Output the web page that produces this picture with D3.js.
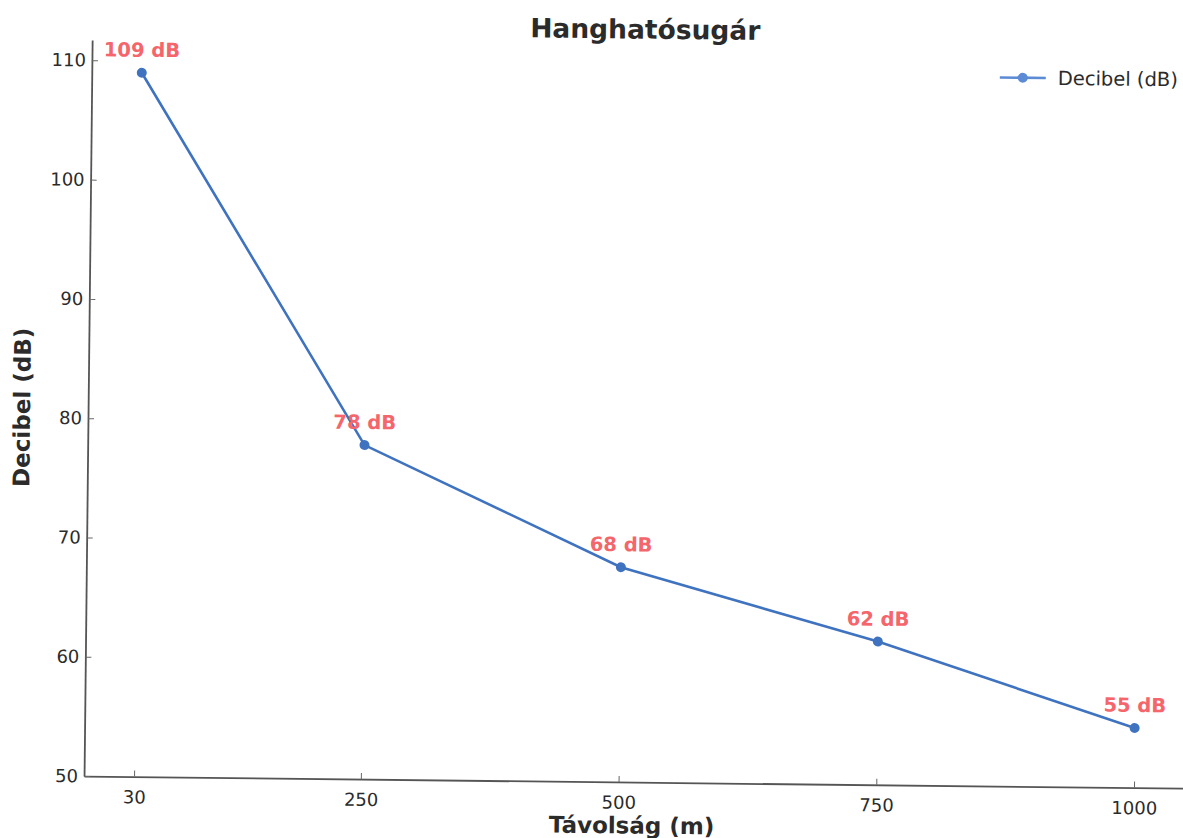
<!DOCTYPE html>
<html>
<head>
<meta charset="utf-8">
<script src="https://cdn.jsdelivr.net/npm/d3@7"></script>
<style>
  body { margin: 0; background: #fff; }
  svg { display: block; font-family: "DejaVu Sans", sans-serif; }
</style>
</head>
<body>
<div id="content"></div>
<script>
// ******* DATA *******
const distances = [30, 250, 500, 750, 1000];
const decibels = [109, 78, 68, 62, 55];
const pointLabels = ["109 dB", "78 dB", "68 dB", "62 dB", "55 dB"];
const xTicks = [30, 250, 500, 750, 1000];
const yTicks = [50, 60, 70, 80, 90, 100, 110];

const chartTitle = "Hanghatósugár";
const xTitle = "Távolság (m)";
const yTitle = "Decibel (dB)";
const seriesName = "Decibel (dB)";

// ******* LAYOUT *******
const width = 1183, height = 838;
const plotLeft = 88, plotRight = 1188, plotTop = 45.5, plotBottom = 781.6;
const lineColor = "#3f73c0";
const labelColor = "#f4666b";

const svg = d3.select("#content").append("svg")
    .attr("width", width)
    .attr("height", height);

// the reference is a slightly tilted scan, so tilt everything a bit
const g = svg.append("g").attr("transform", "rotate(0.63, 590, 420)");

// x margin like matplotlib: 5% of data span on each side
const span = d3.max(distances) - d3.min(distances);
const x = d3.scaleLinear()
    .domain([d3.min(distances) - span * 0.05, d3.max(distances) + span * 0.05])
    .range([plotLeft, plotRight]);

const ySpan = d3.max(decibels) - d3.min(decibels);
const y = d3.scaleLinear()
    .domain([50, d3.max(decibels) + ySpan * 0.05])
    .range([plotBottom, plotTop]);

// axes (ticks point inward)
const xAxis = g.append("g")
    .attr("transform", `translate(0,${plotBottom})`)
    .call(d3.axisBottom(x).tickValues(xTicks).tickFormat(d3.format("d"))
        .tickSizeInner(-6).tickSizeOuter(0).tickPadding(14));

const yAxis = g.append("g")
    .attr("transform", `translate(${plotLeft},0)`)
    .call(d3.axisLeft(y).tickValues(yTicks).tickFormat(d3.format("d"))
        .tickSizeInner(-6).tickSizeOuter(0).tickPadding(6));

[xAxis, yAxis].forEach(a => {
    a.select(".domain").attr("stroke", "#555").attr("stroke-width", 1.8);
    a.selectAll(".tick line").attr("stroke", "#666").attr("stroke-width", 1);
    a.selectAll(".tick text")
        .attr("fill", "#2b2b2b")
        .style("font-size", "18px")
        .style("font-family", "DejaVu Sans");
});

// line
const line = d3.line()
    .x((d, i) => x(distances[i]))
    .y(d => y(d));

g.append("path")
    .datum(decibels)
    .attr("fill", "none")
    .attr("stroke", lineColor)
    .attr("stroke-width", 2.6)
    .attr("d", line);

g.selectAll(".pt")
    .data(decibels)
    .join("circle")
    .attr("class", "pt")
    .attr("cx", (d, i) => x(distances[i]))
    .attr("cy", d => y(d))
    .attr("r", 5)
    .attr("fill", lineColor);

// point labels
g.selectAll(".lbl")
    .data(decibels)
    .join("text")
    .attr("class", "lbl")
    .attr("x", (d, i) => x(distances[i]))
    .attr("y", d => y(d) - 16)
    .attr("text-anchor", "middle")
    .attr("fill", labelColor)
    .style("font-size", "19.5px")
    .style("font-weight", "bold")
    .text((d, i) => pointLabels[i]);

// titles
g.append("text")
    .attr("x", (plotLeft + plotRight) / 2 + 3)
    .attr("y", 38)
    .attr("text-anchor", "middle")
    .attr("fill", "#2b2b2b")
    .style("font-size", "26.5px")
    .style("font-weight", "bold")
    .text(chartTitle);

g.append("text")
    .attr("x", 636)
    .attr("y", 833)
    .attr("text-anchor", "middle")
    .attr("fill", "#2b2b2b")
    .style("font-size", "23px")
    .style("font-weight", "bold")
    .text(xTitle);

g.append("text")
    .attr("transform", `translate(30,${(plotTop + plotBottom) / 2}) rotate(-90)`)
    .attr("text-anchor", "middle")
    .attr("fill", "#2b2b2b")
    .style("font-size", "23px")
    .style("font-weight", "bold")
    .text(yTitle);

// legend
const legend = g.append("g").attr("transform", "translate(996,73)");
legend.append("line")
    .attr("x1", 0).attr("x2", 46)
    .attr("stroke", "#5a8bd4")
    .attr("stroke-width", 2.6);
legend.append("circle")
    .attr("cx", 23).attr("r", 5)
    .attr("fill", "#5a8bd4");
legend.append("text")
    .attr("x", 58)
    .attr("dy", "0.35em")
    .attr("fill", "#2b2b2b")
    .style("font-size", "19.5px")
    .text(seriesName);
</script>
</body>
</html>
